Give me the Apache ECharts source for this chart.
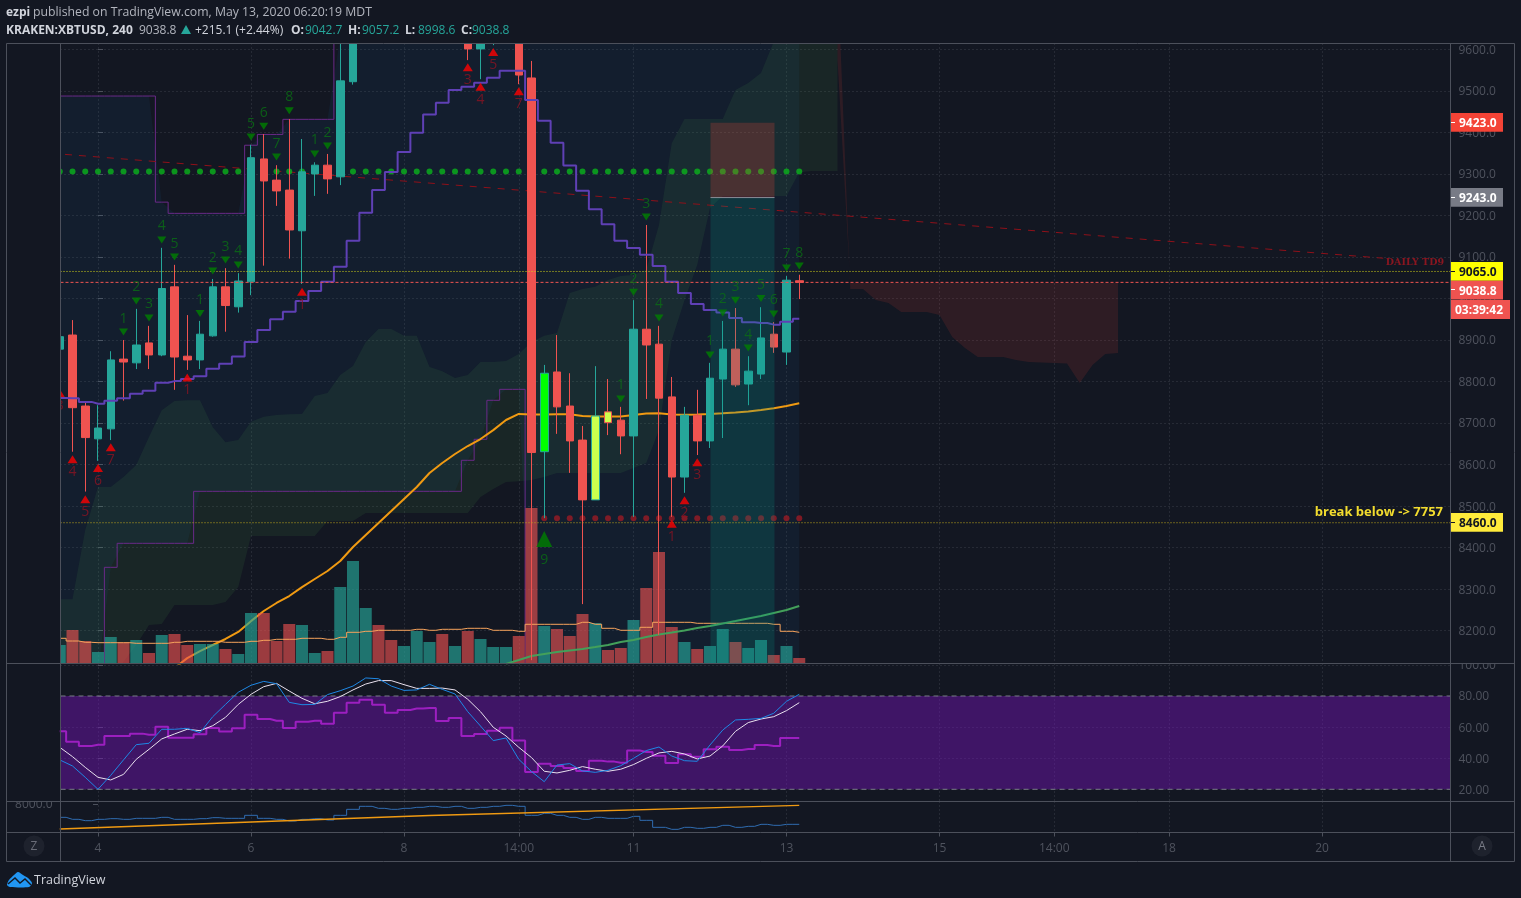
<!DOCTYPE html>
<html><head><meta charset="utf-8"><title>KRAKEN:XBTUSD</title>
<style>html,body{margin:0;padding:0;background:#131722}#c{width:1521px;height:898px}</style>
<script src="https://cdn.jsdelivr.net/npm/echarts@6/dist/echarts.min.js"></script></head>
<body><div id="c"></div>
<script>
// candle index 0 is the "4" tick; candles run from -3 to 55
const xTickIdx=[0,12,24,33,42,54,66,75,84,96];
const xTickLabels=['4','6','8','14:00','11','13','15','14:00','18','20'];
const priceTicks=[8200,8300,8400,8500,8600,8700,8800,8900,9000,9100,9200,9300,9400,9500,9600];
const rsiTicks=[20,40,60,80,100];
const opens=[8878,8912,8741,8662,8686,8854,8845,8893,8864,9028,8861,8852,8910,9028,8980,9040,9336,9285,9261,9163,9300,9321,9293,9522,9660,9740,9700,9680,9730,9770,9810,9640,9670,9601,9650,9700,9730,9531,8631,8823,8741,8659,8515,8727,8707,8669,8926,8890,8763,8570,8719,8657,8806,8878,8794,8818,8914,8871,9042.7];
const closes=[8908,8737,8665,8688,8852,8847,8888,8864,9024,8859,8852,8914,9028,8983,9042,9339,9283,9259,9165,9305,9321,9288,9524,9660,9740,9700,9680,9730,9770,9810,9680,9670,9601,9650,9700,9730,9538,8629,8820,8739,8657,8515,8717,8701,8669,8926,8888,8760,8570,8719,8657,8808,8878,8792,8825,8905,8883,9044,9038.8];
const lows=[8860,8631,8535,8609,8659,8754,8830,8830,8861,8780,8828,8830,8908,8920,8966,9008,9079,9223,9096,9035,9247,9252,9273,9515,9640,9680,9650,9660,9710,9750,9660,9625,9574,9528,9610,9680,9516,8129,8471,8674,8580,8264,8515,8671,8625,8474,8758,8190,8474,8532,8623,8640,8664,8787,8743,8806,8869,8840,8998.6];
const highs=[8925,8948,8749,8743,8873,8900,8975,8934,9122,9081,8960,8946,9047,9073,9061,9370,9396,9321,9432,9384,9328,9348,9640,9700,9760,9770,9730,9750,9790,9830,9830,9690,9700,9670,9720,9750,9750,9572,8840,8912,8820,8693,8837,8806,8739,8996,9177,8934,8811,8739,8780,8845,8946,8977,8861,8979,8943,9054,9057.2];
const volumes=[185,335,225,115,265,212,235,105,285,295,185,195,195,145,95,505,505,225,395,385,105,125,765,1025,555,385,235,175,325,215,295,175,325,245,165,165,275,1555,375,345,275,495,405,135,155,435,755,1115,365,215,145,175,345,215,155,235,85,175,55];
const volumeMA=[252,225,212,208,208,208,202,202,202,212,222,222,222,212,212,222,232,242,242,252,252,242,262,312,322,332,332,332,342,332,342,342,352,352,332,332,322,392,392,392,392,412,392,352,332,332,362,412,412,412,402,402,402,402,402,402,392,322,312];
const basisLine=[8760.3,8760,8751,8746.6,8753.8,8760,8770.7,8778,8797,8801,8806,8813,8831,8843,8860,8895,8924,8950,8968,8994,9018,9040,9076.5,9139,9206.5,9261,9304.5,9353,9399,9443,9471.4,9502,9510,9519.5,9531.6,9548.5,9548.5,9478,9428,9375,9320,9259.5,9215,9178.6,9139,9121.5,9105.4,9078,9040,9013,8986.7,8972,8966,8953,8943,8941,8937,8944,8951];
const channelUpper=[9487.5,9487.5,9487.5,9487.5,9487.5,9487.5,9487.5,9487.5,9232,9205,9205,9205,9205,9205,9205,9369,9395,9395,9431.4,9431.4,9431.4,9431.4,9630,9700,9760,9790,9790,9800,9830,9830,9830,9830,9830,9830,9830,9830,9830,9830,9830,9830,9830,9830,9830,9830,9830,9830,9830,9830,9830,9830,9830,9830,9830,9830,9830,9830,9830,9830,9830];
const channelLower=[8100,8100,8100,8100,8352.6,8410.4,8410.4,8410.4,8410.4,8410.4,8410.4,8535.6,8535.6,8535.6,8535.6,8535.6,8535.6,8535.6,8535.6,8535.6,8535.6,8535.6,8535.6,8535.6,8535.6,8535.6,8535.6,8535.6,8535.6,8535.6,8535.6,8535.6,8610.3,8660.9,8754.8,8781.2,8781.2,8100,8100,8100,8100,8100,8100,8100,8100,8100,8100,8100,8100,8100,8100,8100,8100,8100,8100,8100,8100,8100,8100];
// ema starts at candle 6
const emaLine=[8110,8134,8151,8165.5,8180,8197,8223,8247.4,8266.7,8283.5,8305,8324.5,8343.7,8367.8,8401.5,8430.4,8459.3,8488,8517,8546,8579.7,8603.8,8625.5,8644.7,8661.6,8683,8707.3,8722,8720.6,8720.6,8721,8721,8717,8716,8716,8716,8719.4,8723,8723.5,8720.6,8720,8720.6,8722,8723.5,8725.4,8727.8,8731.4,8735.5,8741,8747.5];
// slow ma starts at candle 32
const slowMA=[8120,8129.4,8139,8144,8148.6,8152.3,8156,8160.7,8165.5,8172.8,8177.6,8184.8,8190.8,8195.6,8200.5,8206.5,8211.3,8217.3,8223.3,8229.4,8235.4,8242.6,8249.8,8259.4];
// cloud runs from candle -3 to 58
const cloudUpper=[8276,8276,8442.5,8546,8546,8570,8599,8666.4,8731,8753,8755,8755,8690,8654,8659,8703,8715,8719.4,8721,8722,8765,8772.4,8816,8837.4,8895,8926.5,8926.5,8910,8910,8835,8825,8808.5,8816,8847,8847,8849.4,8866,8895,8910,8917,9013,9023,9028,9044.5,9054,9056.5,9069,9177,9374,9432,9432,9432,9432,9502,9519,9543,9618,9695,9743,9743,9743,9743];
const cloudLower=[8081,8081,8081,8081,8081,8125,8165.5,8214,8216,8262,8262,8262,8262,8269,8305,8428,8428,8428,8428,8428,8428,8464,8464,8464,8483.4,8483.4,8483.4,8483.4,8483.4,8483.4,8483.4,8483.4,8483.4,8522,8541,8558,8560,8563,8570,8580,8580,8580,8580,8580,8580,8592,8604,8683,8900,8996,9081,9218,9247,9247,9247,9247,9247,9247,9304,9307,9307,9307];
// bearish future cloud runs from candle 58 to 80
const futureUpper=[9574,9037.2,9037.2,9037.2,9037.2,9037.2,9037.2,9037.2,9037.2,9037.2,9037.2,9037.2,9037.2,9037.2,9037.2,9037.2,9037.2,9037.2,9037.2,9037.2,9037.2,9037.2,9037.2];
const futureLower=[9791,9022.8,9022.8,8996.3,8989,8967.4,8967.4,8967.4,8960,8907,8880.7,8859,8859,8859,8851.8,8847,8845.8,8844.6,8843.4,8796.4,8839.8,8866.3,8868.7];
const greenDotLevel=9306, redDotLevel=8470.6;
const levels={yellowTop:9065,last:9038.8,yellowLow:8460};
const positionEntry=9243, positionStop=9423, positionFrom=48.04, positionTo=53.06;
const trendX=[-2.59,100.8], trendY=[9347,9097];
const sellIdx=[2,3,4,5,6,8,9,10,11,12,13,14,15,17,18,41,42,43,44,48,49,50,51,52,53,54,55];
const sellNum=[1,2,3,4,5,1,2,3,4,5,6,7,8,1,2,1,2,3,4,1,2,3,4,5,6,7,8];
const sellPrice=[8919,8993.9,8953,9140.8,9099.8,8964,9066,9092.6,9080.6,9388.8,9415,9340.6,9452,9348,9367,8758,9014.8,9196,8953,8864,8965,8996,8880.7,9000,8962.6,9073.4,9078];
const buyIdx=[-3,-2,-1,0,1,7,16,29,30,31,33,45,46,47];
const buyNum=[3,4,5,6,7,1,1,3,4,5,7,1,2,3];
const buyPrice=[8772.4,8612.7,8516.4,8591.8,8641.6,8810,9016.3,9556.6,9510,9593.5,9498.8,8457.6,8514,8605.5];
const nineIdx=[35], ninePrice=[8420.8];
const rsiValues=[57.3,50.6,47.9,48.7,54.3,54.3,55.8,55.1,60.3,53.2,53.2,55.4,59.4,57.1,59.2,68,65.2,64.1,59.4,63.5,64.1,62.2,69.3,75.7,77.6,74.4,69.3,71,71.9,72.3,63.9,65.9,54.3,55.6,57.7,59.6,51.3,31.2,36.5,35,33.7,31.8,38.4,37.8,37.1,44.9,44,41.6,36.9,42.5,41,45.7,47.4,45.3,45.9,48.5,47.9,53,53];
const stochK=[38.9,35,27.7,20,29,38.9,48.7,49.6,58.6,58.6,59.2,56.4,66.7,74.6,82.4,86.9,89.4,87.9,75.9,74.4,74.6,80.9,83.4,86.4,91.6,91.1,86.4,83.6,83.9,87.5,84.3,81.3,69.9,60.7,51.3,53,39.3,31.4,24.9,35.6,36.5,31.8,30.9,32.2,35.2,39.9,44.9,47.2,41.4,38.4,38,48.5,58.1,64.6,65,65.6,68.9,76.6,81.1];
const stochD=[47,41,34.1,27.7,26,29.6,39.3,45.7,52.4,55.6,58.6,57.7,60.9,66.3,74.6,81.1,86,88.1,83.2,78.5,75,76.6,79.6,83.9,87.7,89.9,89.9,87.3,84.9,84.9,85.1,83.9,77.9,69.9,59.9,54.3,47,40.4,31.6,30.5,32.2,34.6,32.9,31.6,32.9,35.9,39.9,43.4,44.4,42.7,39.5,41.4,47.9,57.3,62.9,65.2,66.7,70.6,75.7];
const lowerPaneStep=[6667,6467,6333,6467,6533,6467,6567,6567,6667,6467,6467,6533,6633,6567,6567,6867,6567,6467,6300,6467,6533,6400,6867,7467,7767,7567,7467,7567,7667,7767,7667,7767,7567,7667,7767,7867,7767,6867,7067,6867,6667,6467,6667,6567,6567,6767,6367,5667,5467,5667,5567,5667,5867,5667,5767,5967,5867,5967,5967];
const lowerPaneAvgX=[-3,26,55], lowerPaneAvgY=[5500,6850,7867];
const specialCandles={35:{color:'#00ff00',border:'#26a69a'},39:{color:'#ccff4d',border:'#26a69a'},40:{color:'#ccff4d',border:'#ef5350'}};

const UP='#26a69a',DOWN='#ef5350',GRID='#3a3e49',FRAME='#4c505b',LABEL='#4f535e',BG='#131722';
const idx=(arr,start)=>arr.map((v,i)=>[i+start,v]);
const pair=(xs,ys)=>xs.map((x,i)=>[x,ys[i]]);
const XMIN=-2.9412,XMAX=106.0784;
const kFirst=-3;
const xs=(n,s)=>Array.from({length:n},(_,i)=>i+s);

function band(x,up,lo,fill,z,name){
  return {type:'custom',name,coordinateSystem:'cartesian2d',xAxisIndex:0,yAxisIndex:0,z,silent:true,clip:true,
    data:[[x[0],up[0]]],encode:{x:0,y:1},
    renderItem:(p,api)=>{
      const pts=[];
      x.forEach((v,i)=>pts.push(api.coord([v,up[i]])));
      for(let i=x.length-1;i>=0;i--)pts.push(api.coord([x[i],lo[i]]));
      return {type:'polygon',shape:{points:pts},style:{fill}};
    }};
}
function line(name,data,color,width,z,extra){
  return Object.assign({type:'line',name,data,showSymbol:false,symbol:'none',z,silent:true,animation:false,
    xAxisIndex:0,yAxisIndex:0,lineStyle:{color,width}},extra||{});
}
const flat=(v)=>[[XMIN,v],[XMAX,v]];

const candleData=opens.map((o,i)=>{
  const k=i+kFirst,s=specialCandles[k];
  const d={value:[k,o,closes[i],lows[i],highs[i]]};
  if(s)d.itemStyle={color:s.color,color0:s.color,borderColor:s.border,borderColor0:s.border};
  return d;
});
const volumeData=volumes.map((v,i)=>({value:[i+kFirst,v],itemStyle:{color:closes[i]>=opens[i]?'rgba(38,166,154,0.65)':'rgba(239,83,80,0.62)'}}));
const digitLabel=(pos,dist,color)=>({show:true,position:pos,distance:dist,color,fontFamily:'Open Sans',fontSize:14});

const series=[
  band(xs(59,-3),channelUpper,channelLower,'rgba(33,150,243,0.06)',1,'channel fill'),
  band(xs(62,-3),cloudUpper,cloudLower,'rgba(76,175,80,0.10)',1,'cloud'),
  band(xs(23,58),futureUpper,futureLower,'rgba(244,67,54,0.12)',1,'future cloud'),
  line('channel upper',idx(channelUpper,-3),'#6a2a88',1,2,{step:'middle'}),
  line('channel lower',idx(channelLower,-3),'#6a2a88',1,2,{step:'middle'}),
  line('ema',idx(emaLine,6),'#f09a12',2,2),
  line('trend',pair(trendX,trendY),'#8f1019',1,2,{lineStyle:{color:'#8f1019',width:1,type:[7,7]}}),
  {type:'scatter',name:'green dots',data:opens.map((_,i)=>[i+kFirst,greenDotLevel]),symbolSize:6,z:3,clip:false,silent:true,itemStyle:{color:'#0ab41c'},xAxisIndex:0,yAxisIndex:0},
  {type:'scatter',name:'red dots',data:xs(21,35).map(k=>[k,redDotLevel]),symbolSize:6,z:3,silent:true,itemStyle:{color:'#9b1a24'},xAxisIndex:0,yAxisIndex:0},
  {type:'bar',name:'volume',data:volumeData,xAxisIndex:0,yAxisIndex:1,barWidth:12,z:3,silent:true},
  line('volume ma',idx(volumeMA,-3),'#f7a35c',1,4,{step:'middle',yAxisIndex:1}),
  {type:'candlestick',name:'XBTUSD',data:candleData,xAxisIndex:0,yAxisIndex:0,barWidth:8,z:4,silent:true,
    itemStyle:{color:UP,color0:DOWN,borderColor:UP,borderColor0:DOWN,borderWidth:1}},
  line('basis',idx(basisLine,-3),'#5f40b5',2,5,{step:'middle'}),
  line('slow ma',idx(slowMA,32),'#43a05a',2,4),
  band([positionFrom,positionTo],[positionStop,positionStop],[positionEntry,positionEntry],'rgba(244,67,54,0.22)',6,'stop box'),
  band([positionFrom,positionTo],[positionEntry,positionEntry],[8100,8100],'rgba(0,150,136,0.2)',6,'target box'),
  line('entry',[[positionFrom,positionEntry],[positionTo,positionEntry]],'#8a8d97',1,7),
  line('level yellow',flat(levels.yellowTop),'#d4d418',1,7,{lineStyle:{color:'#d4d418',width:1,type:[1,2]}}),
  line('level last',flat(levels.last),'#ef5350',1,7,{lineStyle:{color:'#ef5350',width:1,type:[3,2]}}),
  line('level low',flat(levels.yellowLow),'#c0a81c',1,7,{lineStyle:{color:'#c0a81c',width:1,type:[1,2]}}),
  {type:'scatter',name:'td sell',xAxisIndex:0,yAxisIndex:0,z:8,silent:true,symbol:'triangle',symbolRotate:180,symbolSize:[9,7],
    itemStyle:{color:'#008000'},
    data:sellIdx.map((k,i)=>({value:[k,sellPrice[i]],label:{formatter:String(sellNum[i])}})),
    label:digitLabel('top',3,'#0a6e14')},
  {type:'scatter',name:'td buy',xAxisIndex:0,yAxisIndex:0,z:8,silent:true,clip:false,symbol:'triangle',symbolSize:[10,8],
    itemStyle:{color:'#ff0000'},
    data:buyIdx.map((k,i)=>({value:[k,buyPrice[i]],label:{formatter:String(buyNum[i])}})),
    label:digitLabel('bottom',2,'#8c1322')},
  {type:'scatter',name:'td nine',xAxisIndex:0,yAxisIndex:0,z:8,silent:true,symbol:'triangle',symbolSize:[16,16],
    itemStyle:{color:'#008000'},data:pair(nineIdx,ninePrice).map(v=>({value:v,label:{formatter:'9'}})),
    label:digitLabel('bottom',6,'#0a6e14')},
  // RSI pane
  line('band',flat(80),'#787b86',1,2,{xAxisIndex:1,yAxisIndex:2,lineStyle:{color:'#787b86',width:1,type:[5,4]},
    markArea:{silent:true,itemStyle:{color:'rgba(118,20,186,0.45)'},data:[[{xAxis:XMIN,yAxis:20},{xAxis:XMAX,yAxis:80}]]}}),
  line('band low',flat(20),'#787b86',1,2,{xAxisIndex:1,yAxisIndex:2,lineStyle:{color:'#787b86',width:1,type:[5,4]}}),
  line('rsi',idx(rsiValues,-3),'#9c1fc0',2,3,{step:'middle',xAxisIndex:1,yAxisIndex:2}),
  line('stoch d',idx(stochD,-3),'#e8e0ee',1,4,{xAxisIndex:1,yAxisIndex:2}),
  line('stoch k',idx(stochK,-3),'#1e88e5',1,5,{xAxisIndex:1,yAxisIndex:2}),
  // lower pane
  line('lower step',idx(lowerPaneStep,-3),'#2f6cb0',1,3,{step:'middle',xAxisIndex:2,yAxisIndex:3}),
  line('lower avg',pair(lowerPaneAvgX,lowerPaneAvgY),'#f09a12',1.4,3,{xAxisIndex:2,yAxisIndex:3})
];

const splitL={show:true,lineStyle:{color:GRID,width:1,type:[1,3]}};
const mkX=(g,showLabel)=>({type:'value',gridIndex:g,min:XMIN,max:XMAX,axisLine:{show:false},
  axisTick:{show:showLabel,customValues:xTickIdx,length:4,lineStyle:{color:FRAME}},splitLine:splitL,
  axisLabel:{show:showLabel,customValues:xTickIdx,margin:10,color:LABEL,fontFamily:'Open Sans',fontSize:12,
    formatter:v=>{const i=xTickIdx.indexOf(Math.round(v));return i<0?'':xTickLabels[i];}}});
const mkY=(g,min,max,ticks,dec,pos,sl)=>({type:'value',gridIndex:g,min,max,position:pos||'right',axisLine:{show:false},
  axisTick:{show:true,customValues:ticks,length:5,lineStyle:{color:FRAME}},
  splitLine:sl===false?{show:false}:splitL,
  axisLabel:{show:true,customValues:ticks,margin:8,hideOverlap:false,showMinLabel:true,showMaxLabel:true,
    formatter:v=>'{a|'+v.toFixed(dec)+'}',
    rich:{a:{color:LABEL,fontFamily:'Open Sans',fontSize:12,padding:[2,0,0,0]}}}});

const TXT=(x,y,text,fill,font,align,z)=>({type:'text',z:z||200,silent:true,style:{x,y,text,fill,font:font||'12px "Open Sans"',align:align||'left',verticalAlign:'middle'}});
const RECT=(x,y,w,h,fill,z)=>({type:'rect',z:z||190,silent:true,shape:{x,y,width:w,height:h},style:{fill}});
const LN=(x1,y1,x2,y2,c)=>({type:'line',z:195,silent:true,shape:{x1,y1,x2,y2},style:{stroke:c||FRAME,lineWidth:1}});
const TAG=(y,text,bg,fg,dashY)=>[RECT(1450.5,y,52.5,18.7,bg),LN(1451,dashY,1455,dashY,fg),TXT(1459,y+10.4,text,fg,'bold 12px "Open Sans"')];
const NORMAL='12px "Open Sans"',BOLD='bold 12px "Open Sans"';
const TV='#d1d4dc';
const HY1=12.8,HY2=30.3;
const graphics=[
  RECT(0,0,1521,43,BG,180),RECT(0,43,60,620,BG,180),
  RECT(7,793,53,8,BG,180),RECT(1451,655,60,8,BG,180),
  LN(6.5,43.5,1514.5,43.5),LN(6.5,861.5,1514.5,861.5),LN(6.5,43.5,6.5,861.5),LN(1514.5,43.5,1514.5,861.5),
  LN(60.5,43.5,60.5,861.5),LN(1450.5,43.5,1450.5,861.5),LN(6.5,663.5,1514.5,663.5),LN(6.5,801.5,1514.5,801.5),LN(6.5,832.5,1514.5,832.5),
  TXT(6,HY1,'ezpi',TV,BOLD),TXT(33,HY1,'published on TradingView.com, May 13, 2020 06:20:19 MDT','#b2b5be','12.25px "Open Sans"'),
  TXT(6,HY2,'KRAKEN:XBTUSD, 240',TV,BOLD),TXT(139,HY2,'9038.8','#b2b5be',NORMAL),
  {type:'polygon',z:200,silent:true,shape:{points:[[181,34],[191,34],[186,25]]},style:{fill:UP}},
  TXT(195,HY2,'+215.1 (+2.44%)','#d1d4dc',NORMAL),
  TXT(291,HY2,'O:',TV,BOLD),TXT(305,HY2,'9042.7',UP,NORMAL),
  TXT(348,HY2,'H:',TV,BOLD),TXT(362,HY2,'9057.2',UP,NORMAL),
  TXT(405,HY2,'L:',TV,BOLD),TXT(418,HY2,'8998.6',UP,NORMAL),
  TXT(461,HY2,'C:',TV,BOLD),TXT(472,HY2,'9038.8',UP,NORMAL),
  ...TAG(113,'9423.0','#f44336','#ffffff',122.5),
  ...TAG(188,'9243.0','#787b86','#ffffff',197.5),
  ...TAG(262,'9065.0','#ffff00','#131722',271.5),
  ...TAG(280.7,'9038.8','#ef5350','#ffffff',289.5),
  RECT(1451,300,59,19,'#ef5350'),TXT(1455,311,'03:39:42','#ffffff',BOLD),
  ...TAG(513,'8460.0','#ffeb3b','#131722',522.5),
  TXT(1444,263,'DAILY TD9','#8a1620','bold 9.5px "DejaVu Serif"','right'),
  TXT(1443,512,'break below -> 7757','#f2dc2e','bold 13px "Open Sans"','right'),
  {type:'circle',z:200,silent:true,shape:{cx:34,cy:846,r:10.5},style:{fill:'#1e222d'}},
  TXT(34,846.5,'Z','#6a6d78',NORMAL,'center',201),
  {type:'circle',z:200,silent:true,shape:{cx:1482,cy:846,r:10.5},style:{fill:'#1e222d'}},
  TXT(1482,846.5,'A','#787b86',NORMAL,'center',201),
  {type:'polygon',z:200,silent:true,shape:{smooth:0.25,points:[[7,885],[9,880],[14,875],[18,872],[23,875],[28,878],[32,883],[29,887],[10,887]]},style:{fill:'#2196f3'}},
  {type:'polyline',z:201,silent:true,shape:{points:[[8,884],[15,878],[20,883],[25,879],[31,885]]},style:{stroke:'#131722',lineWidth:1.4,fill:null}},
  TXT(34,880.5,'TradingView',TV,'12.5px "Open Sans"')
];

const chart=echarts.init(document.getElementById('c'),null,{renderer:'canvas',width:1521,height:898});
chart.setOption({
  animation:false,backgroundColor:BG,
  grid:[
    {left:60.5,top:43.5,width:1390,height:620},
    {left:60.5,top:663.5,width:1390,height:138},
    {left:60.5,top:801.5,width:1390,height:31}
  ],
  xAxis:[mkX(0,false),mkX(1,false),mkX(2,true)],
  yAxis:[
    mkY(0,8121,9614,priceTicks,1),
    {type:'value',gridIndex:0,min:0,max:6200,show:false,splitLine:{show:false}},
    mkY(1,12.15,100.9,rsiTicks,2),
    mkY(2,5150,8250,[8000],1,'left',false)
  ],
  series,graphic:{elements:graphics}
});
</script></body></html>
